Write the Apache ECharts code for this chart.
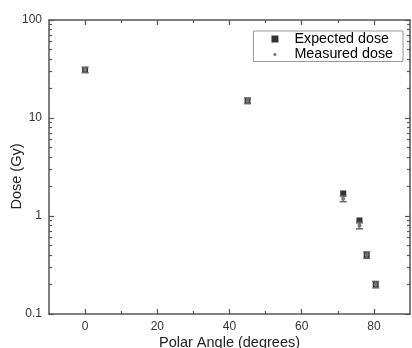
<!DOCTYPE html>
<html>
<head>
<meta charset="utf-8">
<script src="https://cdn.jsdelivr.net/npm/echarts@6/dist/echarts.min.js"></script>
<style>html,body{margin:0;padding:0;background:#fff}#c{width:412px;height:348px}</style>
</head>
<body>
<div id="c"></div>
<script>
// ---- data ----
const angles        = [0, 45, 71.5, 76, 78, 80.5];
const expectedDose  = [31, 15, 1.7, 0.9, 0.4, 0.2];
const measuredDose  = [31, 15, 1.5, 0.8, 0.4, 0.2];
const measuredErr   = [2, 1, 0.1, 0.06, 0.03, 0.015];
const xMajorTicks   = [0, 20, 40, 60, 80];
const xMinorTicks   = [10, 30, 50, 70];
const yMajorTicks   = [0.1, 1, 10, 100];
const yMinorTicks   = [0.2,0.3,0.4,0.5,0.6,0.7,0.8,0.9,2,3,4,5,6,7,8,9,20,30,40,50,60,70,80,90];
const seriesNames   = ['Expected dose', 'Measured dose'];
const xTitle = 'Polar Angle (degrees)';
const yTitle = 'Dose (Gy)';

const FONT = 'Liberation Sans, Arial, sans-serif';
const AX = '#555';

function xAx(pos, ticks, len, labels, line) {
  return {
    type: 'value', position: pos, min: -10, max: 90,
    splitLine: {show: false},
    axisLine: {show: line, onZero: false, lineStyle: {color: AX, width: 1.5}},
    axisTick: {show: true, inside: true, length: len, customValues: ticks, lineStyle: {color: AX, width: 1.2}},
    axisLabel: labels ? {show: true, customValues: xMajorTicks, margin: 7, color: '#333', fontSize: 12, fontFamily: FONT} : {show: false},
    name: labels ? xTitle : '',
    nameLocation: 'middle', nameGap: 21, nameMoveOverlap: false,
    nameTextStyle: {fontSize: 14.5, color: '#222', fontFamily: FONT}
  };
}
function yAx(pos, ticks, len, labels, line) {
  return {
    type: 'log', logBase: 10, position: pos, min: 0.1, max: 100,
    splitLine: {show: false},
    axisLine: {show: line, onZero: false, lineStyle: {color: AX, width: 1.5}},
    axisTick: {show: true, inside: true, length: len, customValues: ticks, lineStyle: {color: AX, width: 1.2}},
    axisLabel: labels ? {show: true, customValues: yMajorTicks, margin: 7, color: '#333', fontSize: 12, fontFamily: FONT,
      formatter: v => String(+(+v).toPrecision(3))} : {show: false},
    name: labels ? yTitle : '',
    nameLocation: 'middle', nameGap: 25, nameRotate: 90, nameMoveOverlap: false,
    nameTextStyle: {fontSize: 14.5, color: '#222', fontFamily: FONT, padding: [0, 19, 0, 0]}
  };
}

const chart = echarts.init(document.getElementById('c'), null, {renderer: 'canvas'});
chart.setOption({
  animation: false,
  backgroundColor: '#fff',
  grid: {left: 49, right: 2, top: 20, bottom: 34, containLabel: false, outerBoundsMode: 'none'},
  xAxis: [
    xAx('bottom', xMajorTicks, 5, true, true),
    xAx('bottom', xMinorTicks, 3, false, false),
    xAx('top', xMajorTicks, 5, false, true),
    xAx('top', xMinorTicks, 3, false, false)
  ],
  yAxis: [
    yAx('left', yMajorTicks, 5, true, true),
    yAx('left', yMinorTicks, 3, false, false),
    yAx('right', yMajorTicks, 5, false, true),
    yAx('right', yMinorTicks, 3, false, false)
  ],
  legend: {
    orient: 'vertical', right: 9, top: 31,
    borderColor: '#999', borderWidth: 1,
    padding: [1, 10, 0, 18], itemGap: 1.5,
    itemWidth: 7, itemHeight: 7,
    textStyle: {fontSize: 14.3, color: '#000', fontFamily: FONT, padding: [0, 0, 0, 11]},
    data: [
      {name: seriesNames[0], icon: 'rect', itemStyle: {color: '#000'}},
      {name: seriesNames[1], icon: 'path://M0,0L0.01,0L0.01,0.01ZM10,10L10.01,10L10.01,10.01ZM2.8,5A2.2,2.2,0,1,0,7.2,5A2.2,2.2,0,1,0,2.8,5Z', itemStyle: {color: '#777'}}
    ]
  },
  series: [
    {
      name: seriesNames[0], type: 'scatter', symbol: 'rect', symbolSize: 6,
      itemStyle: {color: '#000'}, z: 3,
      data: angles.map((a, i) => [a, expectedDose[i]])
    },
    {
      name: seriesNames[1], type: 'custom', z: 4,
      renderItem: function (params, api) {
        const x = api.value(0), y = api.value(1), e = api.value(2);
        const pc = api.coord([x, y]);
        const pl = api.coord([x, y - e]);
        const ph = api.coord([x, y + e]);
        const w = 3.5;
        const st = {stroke: '#666', lineWidth: 1.5};
        return {
          type: 'group',
          children: [
            {type: 'line', shape: {x1: pc[0], y1: pl[1], x2: pc[0], y2: ph[1]}, style: st},
            {type: 'line', shape: {x1: pc[0] - w, y1: pl[1], x2: pc[0] + w, y2: pl[1]}, style: st},
            {type: 'line', shape: {x1: pc[0] - w, y1: ph[1], x2: pc[0] + w, y2: ph[1]}, style: st},
            {type: 'circle', shape: {cx: pc[0], cy: pc[1], r: 2}, style: {fill: '#777'}}
          ]
        };
      },
      itemStyle: {color: '#777'},
      data: angles.map((a, i) => [a, measuredDose[i], measuredErr[i]])
    }
  ]
});
</script>
</body>
</html>
